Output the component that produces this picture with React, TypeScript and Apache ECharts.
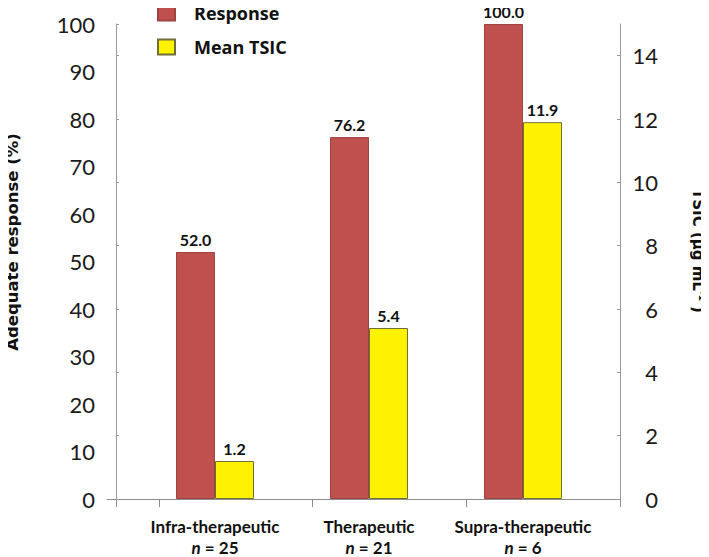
import React, { useEffect, useRef } from "react";
import * as echarts from "echarts";

const categories = ["Infra-therapeutic", "Therapeutic", "Supra-therapeutic"];
const sampleSizes = [25, 21, 6];
const responsePct = [52.0, 76.2, 100.0];
const meanTsic = [1.2, 5.4, 11.9];
const seriesNames = ["Response", "Mean TSIC"];
const leftAxisName = "Adequate response (%)";

const FONT = "Lato, 'Open Sans', sans-serif";
const BOLD = "'Open Sans', Lato, sans-serif";
const WIDE = "'DejaVu Sans', 'Open Sans', sans-serif";

export default function App() {
  const ref = useRef<HTMLDivElement>(null);
  useEffect(() => {
    if (!ref.current) return;
    const chart = echarts.init(ref.current, undefined, { renderer: "svg" });
    const top = 24;
    const bottom = 58;
    const option: any = {
      animation: false,
      backgroundColor: "#ffffff",
      textStyle: { fontFamily: FONT },
      legend: {
        left: 157,
        top: 0,
        padding: [4, 0, 0, 0],
        orient: "vertical",
        icon: "rect",
        itemWidth: 17,
        itemHeight: 15,
        itemGap: 16,
        data: seriesNames,
        textStyle: {
          fontFamily: BOLD,
          fontSize: 18,
          fontWeight: "bold",
          color: "#111",
          padding: [0, 0, 0, 14],
        },
      },
      grid: [
        { left: 138, right: 109, top, bottom },
        { left: 116, right: 89, top, bottom },
        { left: 107, right: 89, top, bottom },
      ],
      xAxis: [
        {
          type: "category",
          gridIndex: 0,
          data: categories,
          axisLine: { show: false },
          axisTick: { show: false },
          axisLabel: {
            margin: 17,
            interval: 0,
            formatter: (v: string, i: number) =>
              `{b|${v}}\n{i|n}{b| = ${sampleSizes[i]}}`,
            rich: {
              b: { fontFamily: FONT, fontSize: 17, fontWeight: "bold", color: "#111", lineHeight: 21 },
              i: { fontFamily: FONT, fontSize: 17, fontWeight: "bold", fontStyle: "italic", color: "#111", lineHeight: 21 },
            },
          },
        },
        {
          type: "category",
          gridIndex: 1,
          data: categories,
          show: false,
        },
        {
          type: "value",
          gridIndex: 2,
          min: -0.338,
          max: 3,
          axisLine: { show: true, lineStyle: { color: "#8c8c8c", width: 1.2 } },
          axisTick: {
            show: true,
            length: 8,
            customValues: [-0.28, 0, 1, 2, 3],
            lineStyle: { color: "#8c8c8c" },
          },
          axisLabel: { show: false },
          splitLine: { show: false },
        },
      ],
      yAxis: [
        { type: "value", gridIndex: 0, min: 0, max: 100, show: false },
        { type: "value", gridIndex: 0, min: 0, max: 15, show: false },
        {
          type: "value",
          gridIndex: 1,
          position: "left",
          min: 0,
          max: 100,
          interval: 10,
          axisLine: { show: true, lineStyle: { color: "#9a9a9a" } },
          axisTick: { show: false },
          splitLine: { show: false },
          axisLabel: { margin: 21, fontFamily: FONT, fontSize: 22, color: "#1a1a1a" },
        },
        {
          type: "value",
          gridIndex: 1,
          position: "right",
          min: 0,
          max: 15,
          interval: 2,
          axisLine: { show: true, lineStyle: { color: "#9a9a9a" } },
          axisTick: { show: true, inside: true, length: 3, lineStyle: { color: "#9a9a9a" } },
          splitLine: { show: false },
          axisLabel: {
            margin: 38,
            align: "right",
            showMaxLabel: false,
            fontFamily: FONT,
            fontSize: 22,
            color: "#1a1a1a",
          },
        },
        {
          type: "value",
          gridIndex: 1,
          position: "left",
          min: 0,
          max: 15,
          interval: 2,
          axisLine: { show: false },
          axisTick: { show: true, inside: true, length: 3, lineStyle: { color: "#9a9a9a" } },
          axisLabel: { show: false },
          splitLine: { show: false },
        },
        { type: "value", gridIndex: 2, show: false },
      ],
      series: [
        {
          name: seriesNames[0],
          type: "bar",
          xAxisIndex: 0,
          yAxisIndex: 0,
          data: responsePct,
          barWidth: 39,
          barGap: "0%",
          itemStyle: { color: "#C0504D", borderColor: "#9b4442", borderWidth: 1 },
          label: {
            show: true,
            position: "top",
            distance: 5,
            formatter: (p: any) => Number(p.value).toFixed(1),
            fontFamily: FONT,
            fontSize: 16,
            fontWeight: "bold",
            color: "#111",
          },
        },
        {
          name: seriesNames[1],
          type: "bar",
          xAxisIndex: 0,
          yAxisIndex: 1,
          data: meanTsic,
          barWidth: 39,
          barGap: "0%",
          itemStyle: { color: "#FFF200", borderColor: "#6e6e3a", borderWidth: 1 },
          label: {
            show: true,
            position: "top",
            distance: 5,
            formatter: (p: any) => Number(p.value).toFixed(1),
            fontFamily: FONT,
            fontSize: 16,
            fontWeight: "bold",
            color: "#111",
          },
        },
      ],
      graphic: [
        {
          type: "text",
          x: 12,
          y: 242,
          rotation: Math.PI / 2,
          style: {
            text: leftAxisName,
            fontFamily: WIDE,
            fontSize: 16.5,
            fontWeight: "bold",
            lineHeight: 18,
            fill: "#111",
            align: "center",
            verticalAlign: "middle",
          },
        },
        {
          type: "text",
          x: 698,
          y: 251,
          rotation: -Math.PI / 2,
          style: {
            text: "{a|TSIC (µg mL}{s|-1}{a| )}",
            align: "center",
            verticalAlign: "middle",
            rich: {
              a: { fontFamily: WIDE, fontSize: 15, fontWeight: "bold", fill: "#111", lineHeight: 17 },
              s: { fontFamily: WIDE, fontSize: 9, fontWeight: "bold", fill: "#111", lineHeight: 17, verticalAlign: "top" },
            },
          },
        },
      ],
    };
    chart.setOption(option);
    return () => chart.dispose();
  }, []);
  return <div ref={ref} style={{ width: 709, height: 557, marginLeft: -8, marginTop: -8 }} />;
}
